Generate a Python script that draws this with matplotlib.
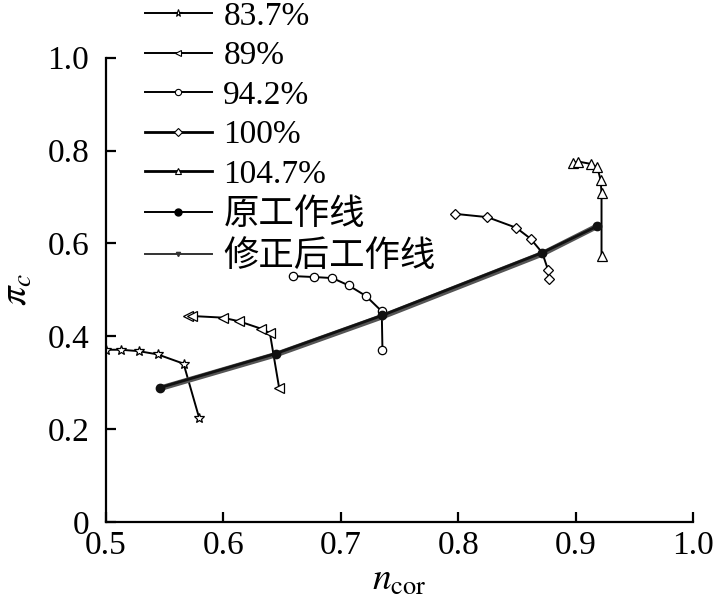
import matplotlib
matplotlib.use('Agg')
import matplotlib.pyplot as plt
import matplotlib.lines as mlines

plt.rcParams['font.family'] = ['Liberation Serif', 'Noto Sans CJK SC']
plt.rcParams['mathtext.fontset'] = 'stix'

# speed lines
sp837_x = [0.500, 0.5128, 0.5279, 0.5440, 0.5661, 0.5794]
sp837_y = [0.371, 0.371, 0.368, 0.361, 0.341, 0.224]
sp89_x = [0.570, 0.5729, 0.5993, 0.6134, 0.6319, 0.6396, 0.6475]
sp89_y = [0.4437, 0.4437, 0.4402, 0.4323, 0.4165, 0.4071, 0.2888]
sp942_x = [0.6589, 0.6773, 0.6929, 0.7066, 0.7215, 0.7349, 0.7355]
sp942_y = [0.5297, 0.5276, 0.5254, 0.5097, 0.4867, 0.4538, 0.3714]
sp100_x = [0.797, 0.8249, 0.8495, 0.8617, 0.8716, 0.8767, 0.8773]
sp100_y = [0.6638, 0.6566, 0.6337, 0.6101, 0.580, 0.5419, 0.5226]
sp1047_x = [0.898, 0.9023, 0.9128, 0.9185, 0.9213, 0.9221, 0.9221]
sp1047_y = [0.7735, 0.7763, 0.7714, 0.7641, 0.737, 0.709, 0.5727]

# working lines
work_x = [0.5463, 0.6447, 0.7355, 0.8716, 0.9185]
work_y = [0.2896, 0.3628, 0.4452, 0.580, 0.6372]
mod_x = [0.5463, 0.6447, 0.7355, 0.8716, 0.9185]
mod_y = [0.2880, 0.3605, 0.4425, 0.5775, 0.6372]

labels = ['83.7%', '89%', '94.2%', '100%', '104.7%', '原工作线', '修正后工作线']
xticks = [0.5, 0.6, 0.7, 0.8, 0.9, 1.0]
xticklabels = ['0.5', '0.6', '0.7', '0.8', '0.9', '1.0']
yticks = [0, 0.2, 0.4, 0.6, 0.8, 1.0]
yticklabels = ['0', '0.2', '0.4', '0.6', '0.8', '1.0']

fig = plt.figure(figsize=(7.17, 6.05), dpi=100)
ax = fig.add_axes([0.1478, 0.1372, 0.8187, 0.7674])

speed = [(sp837_x, sp837_y, '*', 7.5, 1.4),
         (sp89_x, sp89_y, '<', 6.5, 1.4),
         (sp942_x, sp942_y, 'o', 6, 1.4),
         (sp100_x, sp100_y, 'D', 5, 2.0),
         (sp1047_x, sp1047_y, '^', 6.5, 2.0)]
for i, (x, y, m, ms, lw) in enumerate(speed):
    h, = ax.plot(x, y, color='black', lw=1.4, marker=m, ms=ms, mfc='white',
                 mec='black', mew=0.9, label=labels[i])
    # the 100% line bends through the working point without a marker there
    if x is sp100_x:
        h.set_markevery([0, 1, 2, 3, 5, 6])

ax.plot(mod_x, mod_y, color='#555555', lw=4, marker='v', ms=4,
        mfc='#333333', mec='#333333', label=labels[6])
ax.plot(work_x, work_y, color='#111111', lw=2, marker='o', ms=6,
        mfc='#111111', mec='#111111', label=labels[5])

ax.set_xlim(0.5, 1.0)
ax.set_ylim(0, 1.0)
ax.set_xticks(xticks)
ax.set_xticklabels(xticklabels)
ax.set_yticks(yticks)
ax.set_yticklabels(yticklabels)
ax.spines['top'].set_visible(False)
ax.spines['right'].set_visible(False)
for s in ['left', 'bottom']:
    ax.spines[s].set_linewidth(1.6)
ax.tick_params(direction='in', length=7, width=1.6, labelsize=24)
ax.tick_params(axis='x', pad=6)
ax.tick_params(axis='y', pad=12)

ax.set_xlabel(r'$n_{\rm cor}$', fontsize=27, labelpad=2)
ax.set_ylabel(r'$\pi_c$', fontsize=28, labelpad=8)

# legend handles: smaller markers than the plot
leg_handles = []
for (x, y, m, ms, lw) in speed:
    leg_handles.append(mlines.Line2D([], [], color='black', lw=lw, marker=m, ms=ms * 0.75,
                                     mfc='white', mec='black', mew=0.8))
leg_handles.append(mlines.Line2D([], [], color='black', lw=1.4, marker='o', ms=5,
                                 mfc='black', mec='black'))
leg_handles.append(mlines.Line2D([], [], color='#333333', lw=1.4, marker='v', ms=3,
                                 mfc='#333333', mec='#333333'))
leg = fig.legend(leg_handles, labels, loc='upper left', bbox_to_anchor=(0.2022, 0.998),
                 frameon=False, fontsize=24, handlelength=2.0, handletextpad=0.35,
                 labelspacing=0.27, borderpad=0, borderaxespad=0)
for t in leg.get_texts()[5:]:
    t.set_fontsize(25.5)

fig.savefig('out.png', dpi=100)
